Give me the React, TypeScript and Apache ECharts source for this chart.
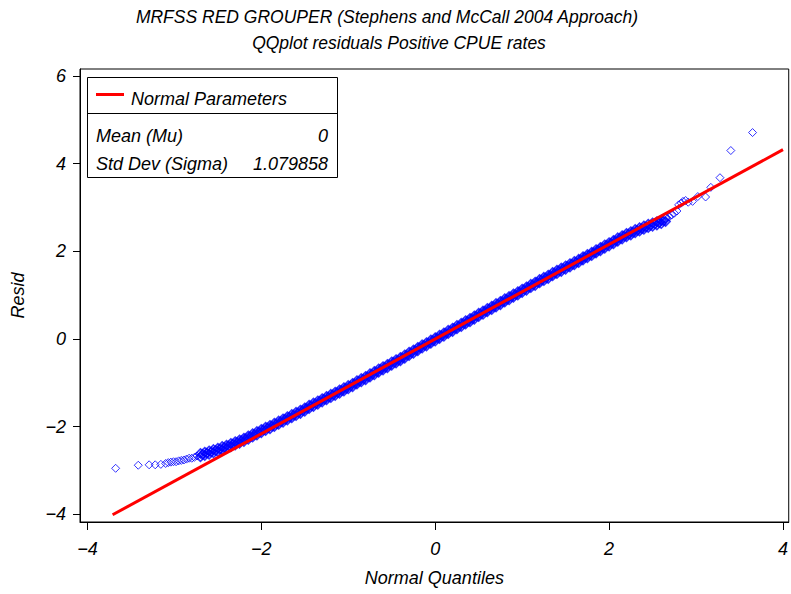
import { useEffect, useRef } from 'react';
import * as echarts from 'echarts';

const titleLine1 = 'MRFSS RED GROUPER (Stephens and McCall 2004 Approach)';
const titleLine2 = 'QQplot residuals Positive CPUE rates';
const xAxisName = 'Normal Quantiles';
const yAxisName = 'Resid';
const xTicks = [-4, -2, 0, 2, 4];
const yTicks = [-4, -2, 0, 2, 4, 6];

const legendTitle = 'Normal Parameters';
const paramLabels = ['Mean (Mu)', 'Std Dev (Sigma)'];
const paramValues = ['0', '1.079858'];

// reference (normal parameters) line endpoints
const lineQ = [-3.71, 4.0];
const lineResid = [-4.01, 4.32];

// dense band of residuals: quantile, lower edge, upper edge
const bandQ = [
  -2.7, -2.65, -2.6, -2.55, -2.5, -2.45, -2.4, -2.35, -2.3, -2.25, -2.2, -2.15, -2.1, -2.05,
  -2.0, -1.95, -1.9, -1.85, -1.8, -1.75, -1.7, -1.65, -1.6, -1.55, -1.5, -1.45, -1.4, -1.35,
  -1.3, -1.25, -1.2, -1.15, -1.1, -1.05, -1.0, -0.95, -0.9, -0.85, -0.8, -0.75, -0.7, -0.65,
  -0.6, -0.55, -0.5, -0.45, -0.4, -0.35, -0.3, -0.25, -0.2, -0.15, -0.1, -0.05, 0.0, 0.05,
  0.1, 0.15, 0.2, 0.25, 0.3, 0.35, 0.4, 0.45, 0.5, 0.55, 0.6, 0.65, 0.7, 0.75, 0.8, 0.85,
  0.9, 0.95, 1.0, 1.05, 1.1, 1.15, 1.2, 1.25, 1.3, 1.35, 1.4, 1.45, 1.5, 1.55, 1.6, 1.65,
  1.7, 1.75, 1.8, 1.85, 1.9, 1.95, 2.0, 2.05, 2.1, 2.15, 2.2, 2.25, 2.3, 2.35, 2.4, 2.45,
  2.5, 2.55, 2.6, 2.65,
];
const bandLo = [
  -2.69, -2.66, -2.63, -2.6, -2.57, -2.53, -2.5, -2.46, -2.42, -2.38, -2.34, -2.29, -2.24, -2.19,
  -2.14, -2.09, -2.05, -2.0, -1.95, -1.9, -1.85, -1.8, -1.75, -1.7, -1.65, -1.59, -1.54, -1.49,
  -1.44, -1.39, -1.34, -1.29, -1.24, -1.19, -1.14, -1.09, -1.03, -0.98, -0.93, -0.87, -0.82, -0.76,
  -0.71, -0.66, -0.6, -0.55, -0.5, -0.44, -0.38, -0.33, -0.27, -0.21, -0.16, -0.1, -0.05, 0.01,
  0.06, 0.12, 0.17, 0.23, 0.28, 0.34, 0.39, 0.45, 0.51, 0.56, 0.62, 0.67, 0.73, 0.78, 0.84, 0.89,
  0.95, 1.0, 1.06, 1.11, 1.17, 1.22, 1.28, 1.33, 1.38, 1.44, 1.49, 1.54, 1.59, 1.64, 1.69, 1.74,
  1.8, 1.85, 1.9, 1.96, 2.01, 2.07, 2.12, 2.17, 2.23, 2.28, 2.33, 2.37, 2.42, 2.46, 2.5, 2.54,
  2.57, 2.6, 2.63, 2.68,
];
const bandHi = [
  -2.61, -2.58, -2.55, -2.52, -2.49, -2.45, -2.42, -2.38, -2.34, -2.3, -2.26, -2.21, -2.16, -2.11,
  -2.06, -2.01, -1.97, -1.92, -1.87, -1.82, -1.77, -1.72, -1.67, -1.62, -1.57, -1.51, -1.46, -1.41,
  -1.36, -1.31, -1.26, -1.21, -1.16, -1.11, -1.06, -1.01, -0.95, -0.9, -0.85, -0.79, -0.74, -0.68,
  -0.63, -0.58, -0.52, -0.47, -0.42, -0.36, -0.3, -0.25, -0.19, -0.13, -0.08, -0.02, 0.03, 0.09,
  0.14, 0.2, 0.25, 0.31, 0.36, 0.42, 0.47, 0.53, 0.59, 0.64, 0.7, 0.75, 0.81, 0.86, 0.92, 0.97,
  1.03, 1.08, 1.14, 1.19, 1.25, 1.3, 1.36, 1.41, 1.46, 1.52, 1.57, 1.62, 1.67, 1.72, 1.77, 1.82,
  1.88, 1.93, 1.98, 2.04, 2.09, 2.15, 2.2, 2.25, 2.31, 2.36, 2.41, 2.45, 2.5, 2.54, 2.58, 2.62,
  2.65, 2.68, 2.71, 2.76,
];
// band centre, read between the rows above
const bandMidQ = [
  -2.675, -2.625, -2.575, -2.525, -2.475, -2.425, -2.375, -2.325, -2.275, -2.225, -2.175, -2.125, -2.075, -2.025,
  -1.975, -1.925, -1.875, -1.825, -1.775, -1.725, -1.675, -1.625, -1.575, -1.525, -1.475, -1.425, -1.375, -1.325,
  -1.275, -1.225, -1.175, -1.125, -1.075, -1.025, -0.975, -0.925, -0.875, -0.825, -0.775, -0.725, -0.675, -0.625,
  -0.575, -0.525, -0.475, -0.425, -0.375, -0.325, -0.275, -0.225, -0.175, -0.125, -0.075, -0.025, 0.025, 0.075,
  0.125, 0.175, 0.225, 0.275, 0.325, 0.375, 0.425, 0.475, 0.525, 0.575, 0.625, 0.675, 0.725, 0.775, 0.825, 0.875,
  0.925, 0.975, 1.025, 1.075, 1.125, 1.175, 1.225, 1.275, 1.325, 1.375, 1.425, 1.475, 1.525, 1.575, 1.625, 1.675,
  1.725, 1.775, 1.825, 1.875, 1.925, 1.975, 2.025, 2.075, 2.125, 2.175, 2.225, 2.275, 2.325, 2.375, 2.425, 2.475,
  2.525, 2.575, 2.625,
];
const bandMid = [
  -2.635, -2.605, -2.575, -2.545, -2.51, -2.475, -2.44, -2.4, -2.36, -2.32, -2.275, -2.225, -2.175, -2.125,
  -2.075, -2.03, -1.985, -1.935, -1.885, -1.835, -1.785, -1.735, -1.685, -1.635, -1.58, -1.525, -1.475, -1.425,
  -1.375, -1.325, -1.275, -1.225, -1.175, -1.125, -1.075, -1.02, -0.965, -0.915, -0.86, -0.805, -0.75, -0.695,
  -0.645, -0.59, -0.535, -0.485, -0.43, -0.37, -0.315, -0.26, -0.2, -0.145, -0.09, -0.035, 0.02, 0.075,
  0.13, 0.185, 0.24, 0.295, 0.35, 0.405, 0.46, 0.52, 0.575, 0.63, 0.685, 0.74, 0.795, 0.85, 0.905, 0.96,
  1.015, 1.07, 1.125, 1.18, 1.235, 1.29, 1.345, 1.395, 1.45, 1.505, 1.555, 1.605, 1.655, 1.705, 1.755, 1.81,
  1.865, 1.915, 1.97, 2.025, 2.08, 2.135, 2.185, 2.24, 2.295, 2.345, 2.39, 2.435, 2.48, 2.52, 2.56, 2.595,
  2.625, 2.655, 2.695,
];

// sparse tails
const lowTailQ = [-3.675, -3.415, -3.29, -3.22, -3.155, -3.1, -3.07, -3.04, -3.01, -2.98, -2.95, -2.92, -2.89, -2.86, -2.83, -2.8, -2.77, -2.74];
const lowTailResid = [-2.95, -2.88, -2.87, -2.87, -2.86, -2.84, -2.82, -2.81, -2.8, -2.8, -2.78, -2.77, -2.76, -2.74, -2.72, -2.72, -2.7, -2.67];
const highTailQ = [2.69, 2.72, 2.75, 2.78, 2.8, 2.83, 2.85, 2.88, 2.91, 2.96, 3.02, 3.11, 3.17, 3.275, 3.4, 3.65];
const highTailResid = [2.78, 2.83, 2.87, 2.92, 3.06, 3.1, 3.14, 3.16, 3.12, 3.14, 3.25, 3.24, 3.46, 3.68, 4.3, 4.71];

const FONT = "'Liberation Sans', Arial, Helvetica, sans-serif";

export default function App() {
  const ref = useRef<HTMLDivElement>(null);
  useEffect(() => {
    const chart = echarts.init(ref.current!, null, { renderer: 'svg' });
    const tailPts: number[][] = [];
    lowTailQ.forEach((q, i) => tailPts.push([q, lowTailResid[i]]));
    highTailQ.forEach((q, i) => tailPts.push([q, highTailResid[i]]));
    const bandPts: number[][] = [];
    bandQ.forEach((q, i) => {
      bandPts.push([q, bandLo[i]]);
      bandPts.push([q, bandHi[i]]);
    });
    bandMidQ.forEach((q, i) => bandPts.push([q, bandMid[i]]));
    const fmt = (v: number) => (v < 0 ? '\u2212' + Math.abs(v) : String(v));
    const textStyle = { fontFamily: FONT, fontStyle: 'italic', fontSize: 18, fill: '#000' };
    chart.setOption({
      animation: false,
      backgroundColor: '#fff',
      grid: { left: 80, right: 1, top: 69, bottom: 72, show: true, borderColor: '#000', borderWidth: 1 },
      xAxis: {
        type: 'value',
        min: -4.085,
        max: 4.066,
        name: xAxisName,
        nameLocation: 'middle',
        nameGap: 47,
        nameTextStyle: { fontFamily: FONT, fontStyle: 'italic', fontSize: 18, color: '#000' },
        axisLine: { show: true, onZero: false, lineStyle: { color: '#000', width: 1 } },
        axisTick: { show: true, length: 8, customValues: xTicks, lineStyle: { color: '#000' } },
        axisLabel: { customValues: xTicks, formatter: fmt, margin: 18, fontFamily: FONT, fontStyle: 'italic', fontSize: 18, color: '#000' },
        splitLine: { show: false },
      },
      yAxis: {
        type: 'value',
        min: -4.175,
        max: 6.16,
        name: yAxisName,
        nameLocation: 'middle',
        nameGap: 53,
        nameTextStyle: { fontFamily: FONT, fontStyle: 'italic', fontSize: 18, color: '#000' },
        axisLine: { show: true, onZero: false, lineStyle: { color: '#000', width: 1 } },
        axisTick: { show: true, length: 7, customValues: yTicks, lineStyle: { color: '#000' } },
        axisLabel: { customValues: yTicks, formatter: fmt, margin: 14, fontFamily: FONT, fontStyle: 'italic', fontSize: 18, color: '#000' },
        splitLine: { show: false },
      },
      series: [
        {
          type: 'scatter',
          name: 'Resid',
          data: bandPts,
          symbol: 'diamond',
          symbolSize: 9,
          itemStyle: { color: 'rgba(0,0,0,0)', borderColor: '#0000ff', borderWidth: 1.6 },
          z: 2,
        },
        {
          type: 'scatter',
          name: 'Resid tails',
          data: tailPts,
          symbol: 'diamond',
          symbolSize: 8,
          itemStyle: { color: 'rgba(0,0,0,0)', borderColor: '#0000ff', borderWidth: 1 },
          z: 2,
        },
        {
          type: 'line',
          name: legendTitle,
          data: lineQ.map((q, i) => [q, lineResid[i]]),
          symbol: 'none',
          lineStyle: { color: '#ff0000', width: 3 },
          z: 3,
        },
      ],
      graphic: [
        { type: 'text', x: 387, y: 17, style: { ...textStyle, fontSize: 17.5, text: titleLine1, align: 'center', verticalAlign: 'middle' } },
        { type: 'text', x: 399, y: 43, style: { ...textStyle, fontSize: 17.5, text: titleLine2, align: 'center', verticalAlign: 'middle' } },
        {
          type: 'group',
          z: 10,
          children: [
            { type: 'rect', shape: { x: 87.5, y: 77.5, width: 250, height: 100 }, style: { fill: '#fff', stroke: '#000', lineWidth: 1 } },
            { type: 'line', shape: { x1: 87.5, y1: 113.5, x2: 337.5, y2: 113.5 }, style: { stroke: '#000', lineWidth: 1 } },
            { type: 'line', shape: { x1: 96, y1: 94.5, x2: 124, y2: 94.5 }, style: { stroke: '#ff0000', lineWidth: 3 } },
            { type: 'text', x: 131, y: 98.5, style: { ...textStyle, text: legendTitle, align: 'left', verticalAlign: 'middle' } },
            { type: 'text', x: 96, y: 136, style: { ...textStyle, text: paramLabels[0], align: 'left', verticalAlign: 'middle' } },
            { type: 'text', x: 96, y: 164, style: { ...textStyle, text: paramLabels[1], align: 'left', verticalAlign: 'middle' } },
            { type: 'text', x: 328, y: 136, style: { ...textStyle, text: paramValues[0], align: 'right', verticalAlign: 'middle' } },
            { type: 'text', x: 328, y: 164, style: { ...textStyle, text: paramValues[1], align: 'right', verticalAlign: 'middle' } },
          ],
        },
      ],
    });
    return () => chart.dispose();
  }, []);
  return <div ref={ref} style={{ position: 'fixed', left: 0, top: 0, width: 791, height: 594, background: '#fff' }} />;
}
